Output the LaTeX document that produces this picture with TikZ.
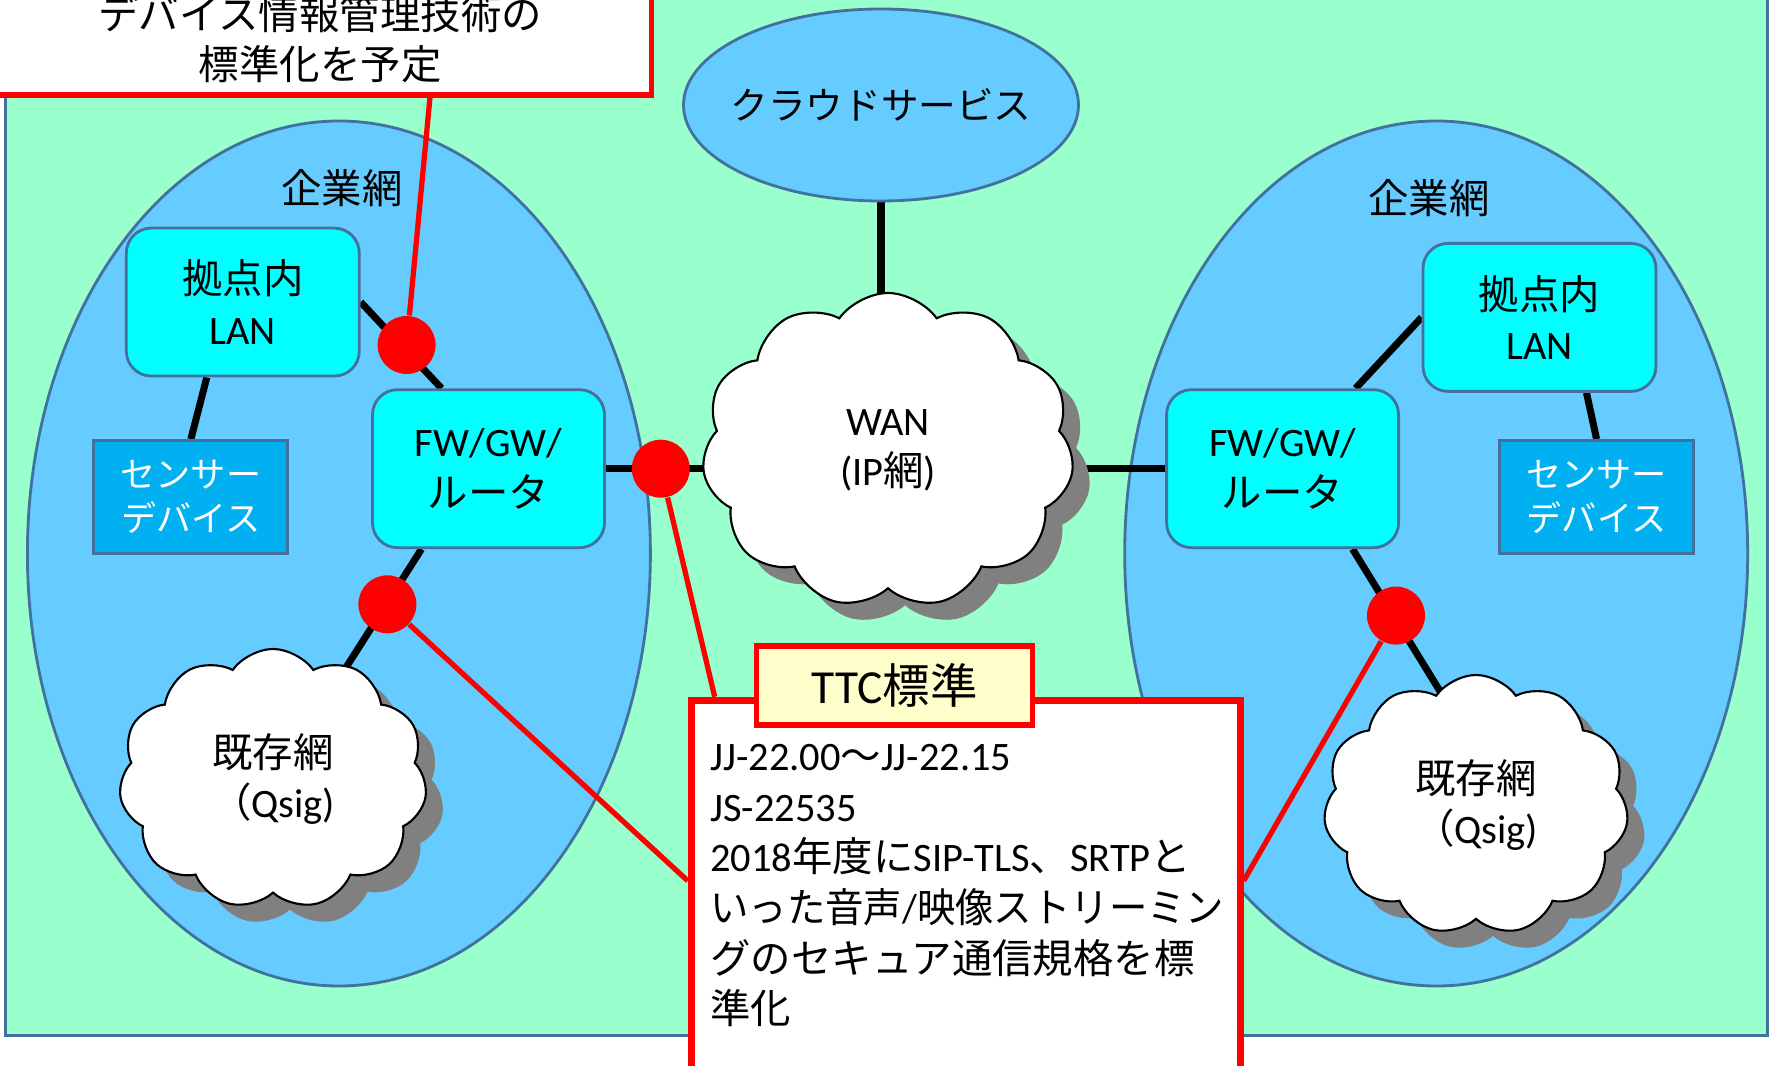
\documentclass[tikz,border=0pt]{standalone}
\usepackage{fontspec}
\setmainfont{Carlito}
\newfontfamily\jp{Noto Sans CJK JP}
\newfontfamily\lat{Carlito}
% Japanese characters are set in the CJK font, the rest in Carlito
\newXeTeXintercharclass\jpclass
\newcount\cc
\newcommand\setcls[3]{\cc=#2\relax\loop\XeTeXcharclass\cc=#1\relax\ifnum\cc<#3\advance\cc by 1\repeat}
\setcls{0}{"21}{"7E}
\setcls{\jpclass}{"3000}{"30FF}
\setcls{\jpclass}{"4E00}{"9FFF}
\setcls{\jpclass}{"FF00}{"FFEF}
\XeTeXinterchartoks 0 \jpclass = {\jp}
\XeTeXinterchartoks 4095 \jpclass = {\jp}
\XeTeXinterchartoks \jpclass 0 = {\lat}
\XeTeXinterchartoks 4095 0 = {\lat}
\XeTeXinterchartokenstate=1
\usetikzlibrary{shapes.geometric, shapes.symbols, shadows}
\definecolor{bggreen}{HTML}{99FFCC}
\definecolor{netblue}{HTML}{66CCFF}
\definecolor{edgeblue}{HTML}{41719C}
\definecolor{boxcyan}{HTML}{00FFFF}
\definecolor{sensblue}{HTML}{00B0F0}
\definecolor{noteyellow}{HTML}{FFFFCC}
\tikzstyle{network} = [ellipse, draw=edgeblue, fill=netblue, line width=0.8pt, inner sep=0pt]
\tikzstyle{lanbox} = [rectangle, rounded corners=0.25cm, draw=edgeblue, fill=boxcyan, line width=0.8pt, minimum width=2.33cm, minimum height=1.48cm, align=center]
\tikzstyle{fwbox} = [lanbox, minimum width=2.32cm, minimum height=1.58cm]
\tikzstyle{sensor} = [rectangle, draw=edgeblue, fill=sensblue, line width=0.8pt, text=white, minimum width=1.94cm, minimum height=1.13cm, align=center, font=\fontsize{10}{12.6}\selectfont]
\tikzstyle{netcloud} = [cloud, cloud puffs=11, cloud puff arc=110, cloud ignores aspect, draw=black, fill=white, line width=0.6pt, align=center, drop shadow={shadow xshift=0.17cm, shadow yshift=-0.17cm, fill=black!50, opacity=1}]
\tikzstyle{reddot} = [circle, fill=red, minimum size=0.58cm, inner sep=0pt]
\tikzstyle{callout} = [rectangle, draw=red, fill=white, line width=1.5pt]
\tikzstyle{link} = [line width=2pt]
\tikzstyle{redlink} = [red, line width=1.5pt]
\pgfdeclarelayer{bg}
\pgfdeclarelayer{links}
\pgfsetlayers{bg,links,main}

\begin{document}
\begin{tikzpicture}[font=\fontsize{11.5}{14.4}\selectfont]
\useasboundingbox (0,0) rectangle (17.71,-10.66);

\begin{pgfonlayer}{bg}
\draw [edgeblue, fill=bggreen, line width=0.8pt] (0.056,0.5) rectangle (17.677,-10.357);
\node (entL) [network, minimum width=6.23cm, minimum height=8.65cm] at (3.389,-5.535) {};
\node (entR) [network, minimum width=6.23cm, minimum height=8.65cm] at (14.362,-5.535) {};
\end{pgfonlayer}

\node (svc) [network, inner xsep=-0.8cm, minimum width=3.95cm, minimum height=1.92cm, font=\fontsize{10.7}{13}\selectfont] at (8.81,-1.05) {クラウドサービス};
\node (labL) at (3.422,-1.886) {企業網};
\node (labR) at (14.288,-1.977) {企業網};

\node (lanL) [lanbox] at (2.428,-3.021) {拠点内\\LAN};
\node (lanR) [lanbox] at (15.395,-3.174) {拠点内\\LAN};
\node (sensL) [sensor] at (1.909,-4.970) {センサー\\デバイス};
\node (sensR) [sensor] at (15.966,-4.970) {センサー\\デバイス};
\node (fwL) [fwbox] at (4.885,-4.687) {FW/GW/\\ルータ};
\node (fwR) [fwbox] at (12.826,-4.687) {FW/GW/\\ルータ};

\node (wan) [netcloud, minimum width=3.72cm, minimum height=3.15cm] at (8.88,-4.505) {WAN\\(IP網)};
\node (cloudL) [netcloud, minimum width=3.08cm, minimum height=2.6cm] at (2.73,-7.79) {既存網\\（Qsig)};
\node (cloudR) [netcloud, minimum width=3.05cm, minimum height=2.6cm] at (14.76,-8.05) {既存網\\（Qsig)};

% callouts
\node (topbox) [callout, minimum width=6.63cm, minimum height=1.095cm, align=center] at (3.202,-0.39) {デバイス情報管理技術の\\標準化を予定};
\node (ttcbox) [callout, line width=2pt, minimum width=5.49cm, minimum height=4.2cm] at (9.657,-9.103) {};
\node (ttctext) [anchor=north west, inner sep=0pt, align=left] at ([xshift=0.22cm,yshift=-0.47cm]ttcbox.north west) {JJ-22.00～JJ-22.15\\JS-22535\\2018年度にSIP-TLS、SRTPと\\\scalebox{0.95}[1]{いった音声/映像ストリーミン}\\グのセキュア通信規格を標\\準化};
\node (ttclabel) [callout, fill=noteyellow, minimum width=2.76cm, minimum height=0.79cm, font=\fontsize{13.5}{16}\selectfont] at (8.946,-6.856) {TTC標準};

\begin{pgfonlayer}{links}
\draw [link] (svc) -- (svc |- wan);
\draw [link] (lanL.east) -- ([xshift=-0.47cm]fwL.north);
\draw [link] ([xshift=-0.36cm]lanL.south) -- (sensL.north);
\draw [link] ([xshift=-0.67cm]fwL.south) -- ([xshift=0.6cm,yshift=-0.4cm]cloudL.north);
\draw [link] (fwL) -- (fwL -| wan);
\draw [link] (fwR -| wan) -- (fwR);
\draw [link] ([xshift=0.73cm]fwR.north) -- (lanR.west);
\draw [link] ([xshift=0.47cm]lanR.south) -- (sensR.north);
\draw [link] ([xshift=0.70cm]fwR.south) -- ([xshift=-0.22cm,yshift=-0.4cm]cloudR.north);
\end{pgfonlayer}

% red markers
\node (dotA) [reddot] at (4.066,-3.45) {};
\node (dotB) [reddot] at (6.608,-4.687) {};
\node (dotC) [reddot] at (3.874,-6.043) {};
\node (dotD) [reddot] at (13.96,-6.156) {};

\draw [redlink] ([xshift=4.439cm]topbox.south west) -- (dotA);
\draw [redlink] (dotB) -- ([xshift=0.27cm]ttcbox.north west);
\draw [redlink] (dotC) -- ([yshift=-1.84cm]ttcbox.north west);
\draw [redlink] (dotD) -- ([yshift=-1.84cm]ttcbox.north east);

\end{tikzpicture}
\end{document}
